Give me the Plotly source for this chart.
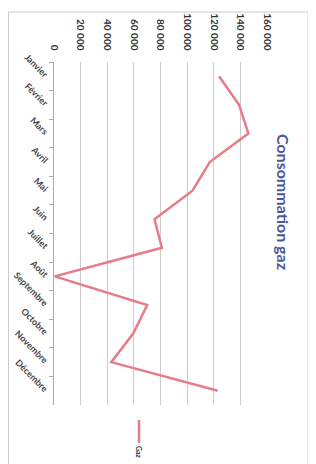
import plotly.graph_objects as go

months = ["Janvier", "Février", "Mars", "Avril", "Mai", "Juin", "Juillet",
          "Août", "Septembre", "Octobre", "Novembre", "Décembre"]
gaz = [124000, 139000, 146000, 117000, 104000, 75500, 81000,
       500, 70000, 59500, 43000, 123000]
value_ticks = [0, 20000, 40000, 60000, 80000, 100000, 120000, 140000, 160000]
value_tick_labels = ["0", "20 000", "40 000", "60 000", "80 000", "100 000",
                     "120 000", "140 000", "160 000"]
series_name = "Gaz"
title_text = "Consommation gaz"

# page body has an 8px default margin: the figure starts at (8, 8)
OFF = 8
W, H = 316 - OFF, 464 - OFF
L, R, T, B = 54 - OFF, 267 - OFF, 62 - OFF, 405 - OFF
pw, ph = R - L, B - T


def px(x):
    return (x - OFF - L) / pw


def py(y):
    return (B - (y - OFF)) / ph


line_color = "#e67c88"

fig = go.Figure(go.Scatter(
    x=gaz, y=months, mode="lines", name=series_name,
    line=dict(color=line_color, width=2.5), showlegend=False,
))

fig.update_layout(
    width=W, height=H, autosize=False,
    margin=dict(l=L, r=W - R, t=T, b=H - B, pad=0),
    paper_bgcolor="white", plot_bgcolor="white",
    font=dict(family="Lato, Liberation Sans, sans-serif", color="#333333"),
    xaxis=dict(
        range=[0, 160000], side="top", tickvals=value_ticks,
        ticktext=value_tick_labels, tickangle=90, automargin=False,
        showgrid=True, gridcolor="#cccccc", gridwidth=1,
        zeroline=False, showline=False, ticks="", ticklabelstandoff=9,
        tickfont=dict(size=10, color="#333333", weight="bold"),
    ),
    yaxis=dict(
        type="category", categoryorder="array", categoryarray=months,
        range=[11.5, -0.5], tickangle=45, automargin=False,
        ticks="outside", ticklen=4, tickcolor="#aaaaaa", tickson="boundaries",
        showline=True, linecolor="#aaaaaa", linewidth=1,
        showgrid=False, zeroline=False, ticklabelstandoff=4,
        tickfont=dict(size=9, color="#444444", weight="bold"),
    ),
    shapes=[
        dict(type="rect", xref="paper", yref="paper",
             x0=px(8.5), x1=px(308), y0=py(480), y1=py(12),
             line=dict(color="#cccccc", width=1), fillcolor="rgba(0,0,0,0)",
             layer="below"),
        dict(type="line", xref="paper", yref="paper",
             x0=px(139), x1=px(139), y0=py(420), y1=py(443),
             line=dict(color=line_color, width=2.5)),
    ],
    annotations=[
        dict(text=f"<b>{title_text}</b>", xref="paper", yref="paper",
             x=px(284), y=py(202), textangle=90, showarrow=False,
             font=dict(size=16, color="#4b5797"),
             xanchor="center", yanchor="middle"),
        dict(text=f"<b>{series_name}</b>", xref="paper", yref="paper",
             x=px(139), y=py(452), textangle=90, showarrow=False,
             font=dict(size=7, color="#333333"),
             xanchor="center", yanchor="middle"),
    ],
)

fig.write_html("out.html")
